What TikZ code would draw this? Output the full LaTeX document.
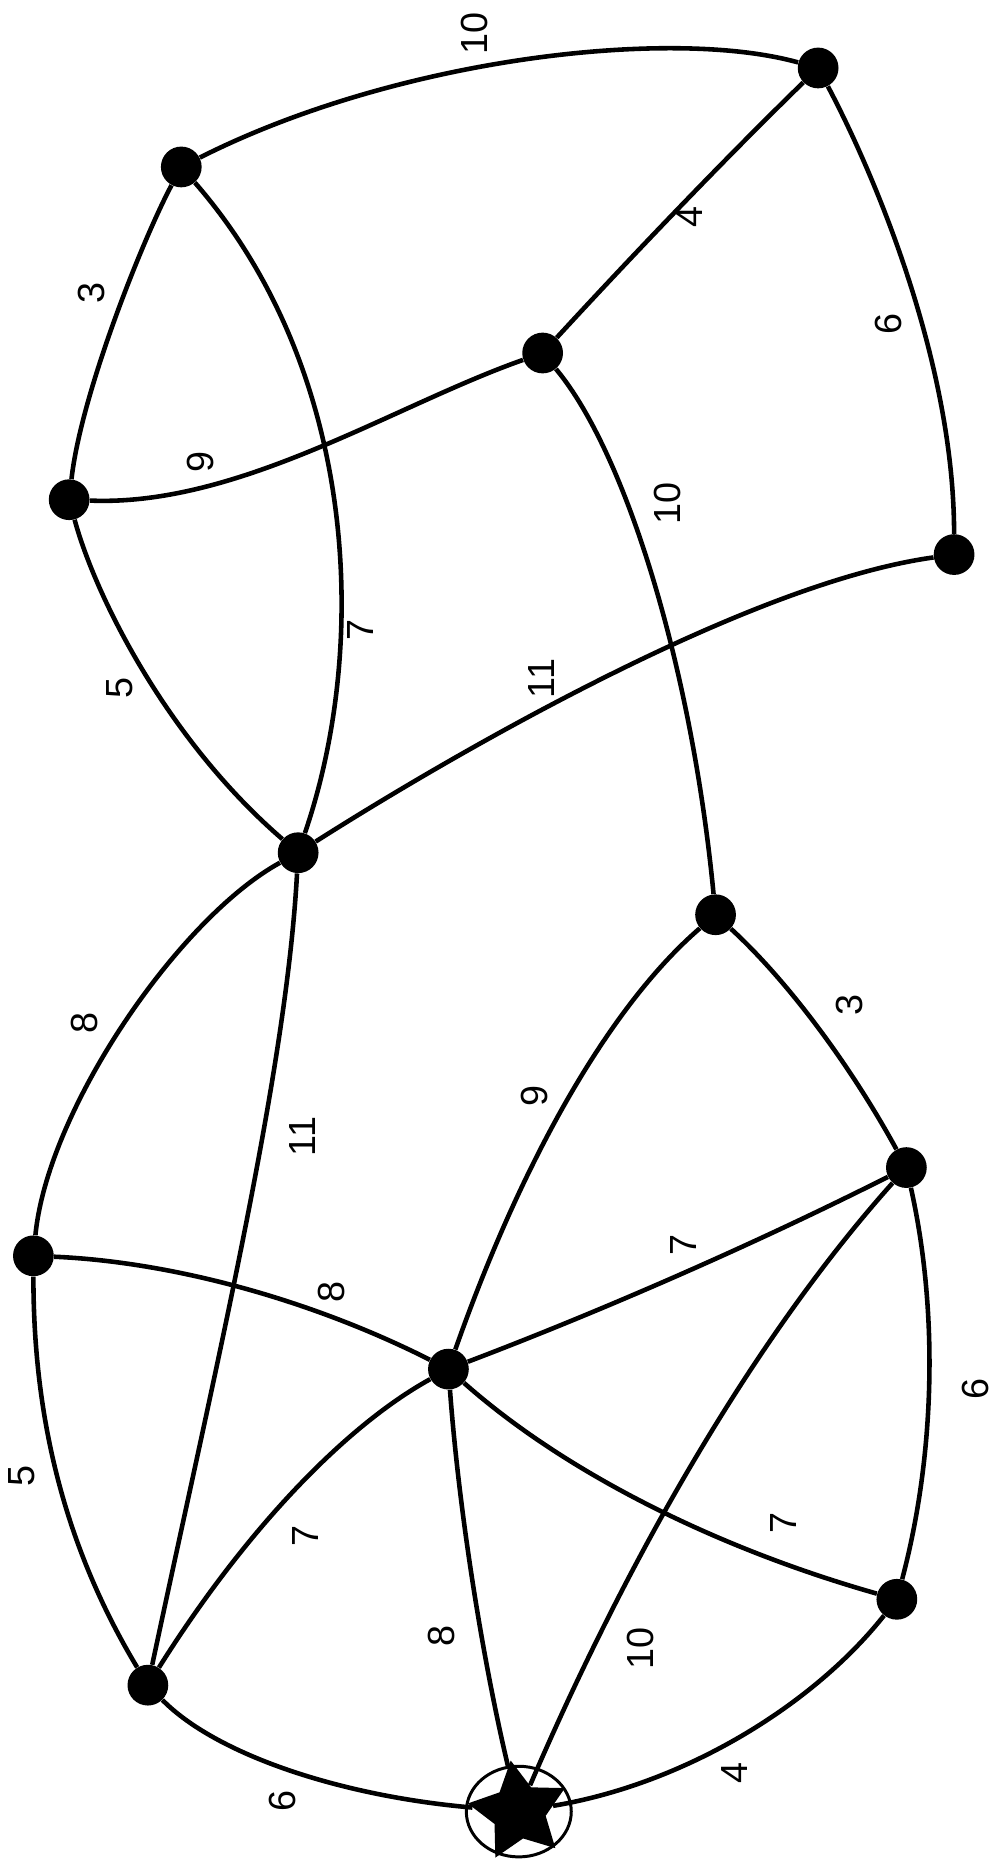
\documentclass[tikz,border=0pt]{standalone}
\usepackage{fontspec}
\setmainfont{Liberation Sans}
\usetikzlibrary{shapes.geometric}

\begin{document}
\begin{tikzpicture}[
    x=0.6pt, y=-0.6pt,
    vertice/.style={circle, fill=black, inner sep=0pt, minimum size=20.5pt},
    origen/.style={star, star points=5, star point ratio=1.9, fill=black, inner sep=0pt, minimum size=52pt, rotate=9},
    arista/.style={line width=2.3pt},
    contorno/.style={line width=1.5pt},
    peso/.style={font=\fontsize{19}{19}\selectfont, rotate=90, inner sep=0pt}
]
\useasboundingbox (0,0) rectangle (835,1568);

% Vertices del grafo
\foreach \n/\p in {A/{686,57}, B/{455,296}, C/{800,465}, D/{152,140}, E/{58,419},
                   F/{250,715}, G/{600,767}, H/{28,1053}, I/{376,1148}, J/{760,979},
                   K/{752,1341}, L/{124,1413}} {
    \node[vertice] (\n) at (\p) {};
}
\node[origen] (S) at (435,1519) {};
\draw[contorno] (S.center) ellipse [x radius=44, y radius=38];

% Aristas
\foreach \a/\c/\d/\b in {D/{330,50}/{560,22}/A,      A/{612,129}/{535,209}/B,
                         A/{730,140}/{800,300}/C,    D/{120,200}/{68,330}/E,
                         D/{300,310}/{310,540}/F,    E/{200,425}/{330,340}/B,
                         E/{80,500}/{140,620}/F,     B/{525,380}/{580,560}/G,
                         F/{360,645}/{620,490}/C,    F/{150,770}/{40,930}/H,
                         F/{240,900}/{180,1150}/L,   H/{28,1180}/{50,1290}/L,
                         G/{660,822}/{713,893}/J,    G/{513,842}/{439,969}/I,
                         I/{505,1099}/{633,1043}/J,  H/{143,1058}/{259,1089}/I,
                         L/{205,1284}/{289,1196}/I,  I/{385,1269}/{405,1393}/S,
                         J/{640,1113}/{532,1293}/S,  I/{472,1233}/{597,1297}/K,
                         J/{787,1100}/{784,1220}/K,  L/{181,1471}/{285,1506}/S,
                         K/{684,1427}/{578,1495}/S} {
    \draw[arista] (\a) .. controls (\c) and (\d) .. (\b);
}

% Pesos
\foreach \n/\p/\t in {w1/{398,28}/10, w2/{578,182}/4, w3/{745,272}/6, w4/{77,246}/3,
                      w5/{302,528}/7, w6/{168,387}/9, w7/{560,422}/10, w8/{454,569}/11,
                      w9/{100,577}/5, w10/{71,858}/8, w11/{254,953}/11, w12/{712,843}/3,
                      w13/{448,919}/9, w14/{573,1044}/7, w15/{278,1083}/8, w16/{18,1238}/5,
                      w17/{256,1288}/7, w18/{370,1372}/8, w19/{537,1382}/10, w20/{657,1277}/7,
                      w21/{818,1165}/6, w22/{237,1510}/6, w23/{616,1487}/4} {
    \node[peso] (\n) at (\p) {\t};
}

\end{tikzpicture}
\end{document}
